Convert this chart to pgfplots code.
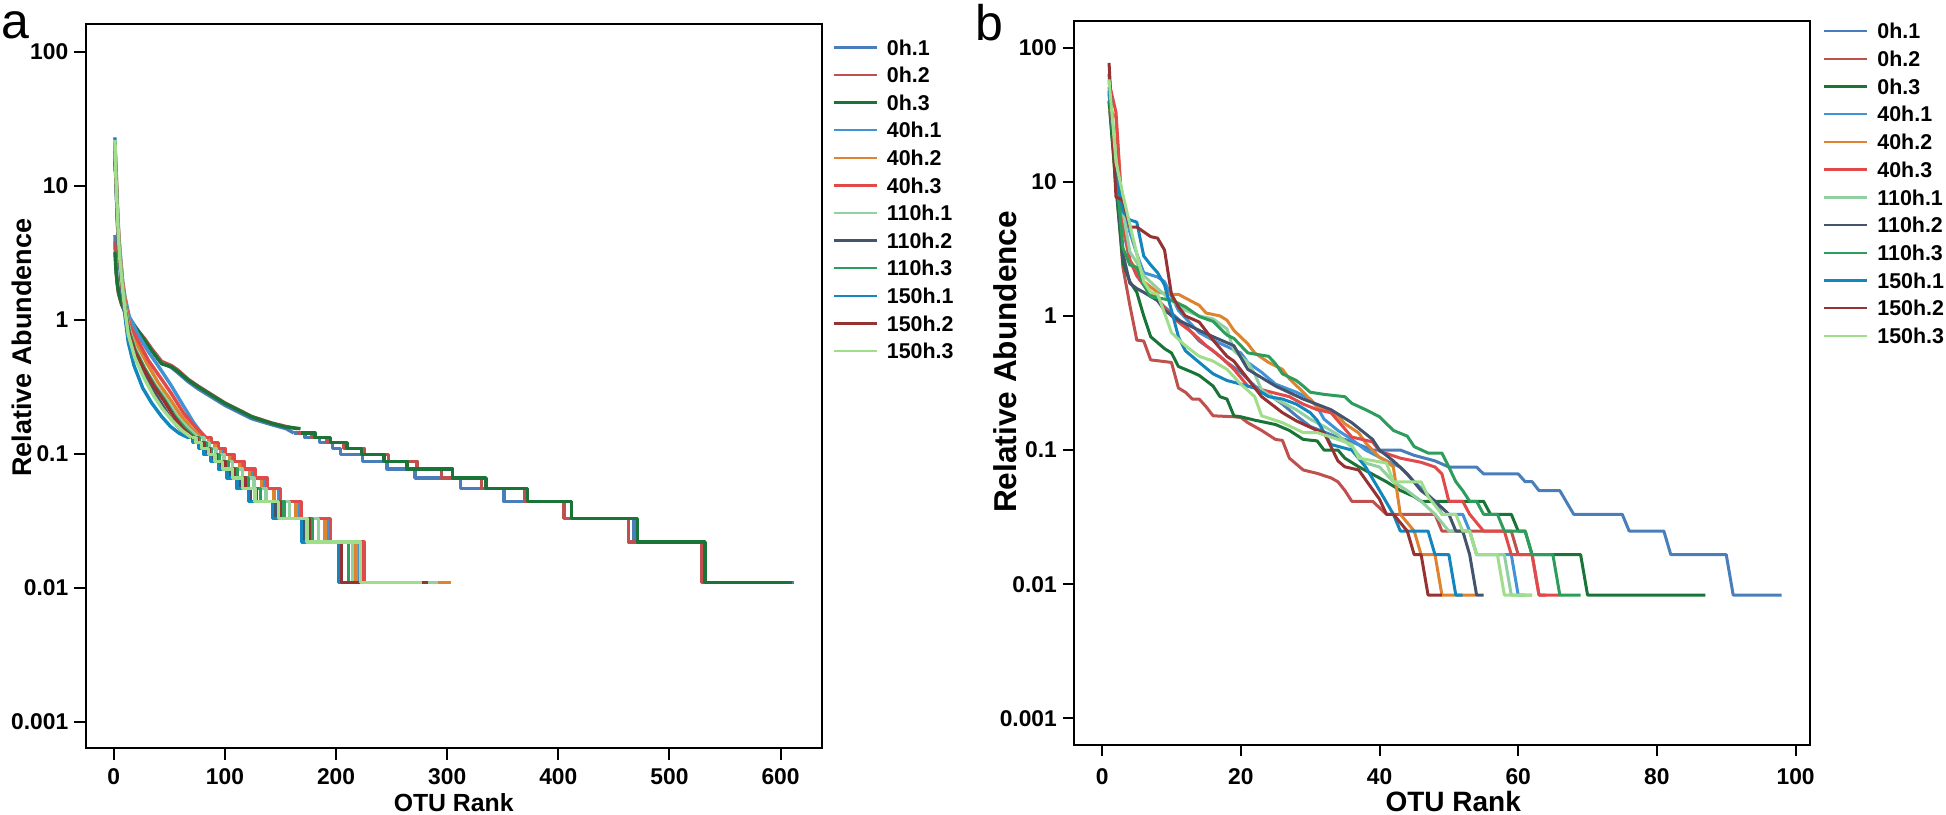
\documentclass[border=0pt]{standalone}
\usepackage{fontspec}
\setmainfont{Liberation Sans}
\usepackage{pgfplots}
\pgfplotsset{compat=1.18}

\definecolor{c01}{RGB}{74,126,187}
\definecolor{c02}{RGB}{192,80,77}
\definecolor{c03}{RGB}{26,115,55}
\definecolor{c41}{RGB}{66,146,214}
\definecolor{c42}{RGB}{222,132,48}
\definecolor{c43}{RGB}{226,74,74}
\definecolor{c111}{RGB}{145,208,160}
\definecolor{c112}{RGB}{68,84,110}
\definecolor{c113}{RGB}{44,157,90}
\definecolor{c151}{RGB}{20,134,190}
\definecolor{c152}{RGB}{150,50,50}
\definecolor{c153}{RGB}{160,222,140}

\pgfplotsset{/pgf/number format/assume math mode=true}

\begin{document}
\begin{tikzpicture}

% ---------------- panel a ----------------
\begin{axis}[
  at={(42.85pt,32.85pt)}, anchor=south west,
  scale only axis, width=368pt, height=362pt,
  ymode=log, yminorticks=false,
  xmin=-25.3, xmax=637, ymin=6.33e-4, ymax=160.9,
  xtick={0,100,200,300,400,500,600},
  ytick={0.001,0.01,0.1,1,10,100},
  yticklabels={0.001,0.01,0.1,1,10,100},
  tick pos=left, tick align=outside, major tick length=5.7pt,
  axis line style={line width=1pt},
  major tick style={line width=1pt,black},
  tick label style={font=\bfseries\fontsize{11.4}{13}\selectfont},
  yticklabel style={xshift=0.5pt},
  xticklabel style={yshift=-1pt},
  legend image code/.code={\draw[line width=1.2pt] (0pt,0pt) -- (21.5pt,0pt);},
  legend style={draw=none, fill=none, at={(1,1)}, anchor=north west, xshift=5.2pt, yshift=-7.5pt,
    inner sep=0pt, row sep=6.1pt, font=\bfseries\fontsize{10.7}{12}\selectfont,
    nodes={inner sep=0pt, text height=7.7pt, text depth=0pt},
    /tikz/every odd column/.append style={column sep=4.5pt}},
  legend cell align=left,
  xlabel={OTU Rank},
  xlabel style={font=\bfseries\fontsize{12.4}{14}\selectfont, at={(0.5,-0.0876)}, anchor=base},
  ylabel={Relative Abundence},
  ylabel style={font=\bfseries\fontsize{13.5}{16}\selectfont, at={(-0.0866,0.553)}, anchor=center},
  every axis plot/.append style={line width=1.7pt, line join=round},
]
% 0h.1
\addplot[c01] coordinates {(1,4.3)(2,2.5)(3,1.95)(4,1.7)(5,1.55)(7,1.35)(10,1.18)(13,1.07)(19,0.9)(28,0.71)(34,0.6)(43,0.48)(52,0.44)(58,0.4)(67,0.345)(76,0.305)(88,0.265)(100,0.23)(112,0.205)(124,0.183)(142,0.165)(155,0.154)(162,0.143)};
\addlegendentry{0h.1}
\addplot[c01, const plot, forget plot] coordinates {(162,0.143)(172,0.132)(185,0.121)(197,0.110)(204,0.099)(224,0.088)(246,0.077)(271,0.066)(312,0.055)(351,0.044)(412,0.033)(468,0.022)(531,0.011)(612,0.011)};
% 0h.2
\addplot[c02] coordinates {(1,3.8)(2,2.4)(3,1.9)(4,1.6)(5,1.5)(7,1.3)(10,1.14)(13,1.04)(19,0.88)(28,0.72)(34,0.61)(43,0.49)(52,0.455)(58,0.42)(67,0.36)(76,0.32)(88,0.277)(100,0.24)(112,0.214)(124,0.19)(142,0.17)(155,0.16)(165,0.154)};
\addlegendentry{0h.2}
\addplot[c02, const plot, forget plot] coordinates {(165,0.143)(178,0.132)(192,0.121)(207,0.110)(225,0.099)(247,0.088)(273,0.077)(295,0.066)(331,0.055)(370,0.044)(405,0.033)(463,0.022)(529,0.011)(608,0.011)};
% 0h.3
\addplot[c03] coordinates {(1,3.2)(2,2.3)(3,1.9)(4,1.65)(5,1.5)(7,1.32)(10,1.15)(13,1.05)(19,0.89)(28,0.70)(34,0.59)(43,0.47)(52,0.446)(58,0.41)(67,0.355)(76,0.316)(88,0.274)(100,0.238)(112,0.212)(124,0.189)(142,0.169)(154,0.159)(168,0.154)};
\addlegendentry{0h.3}
\addplot[c03, const plot, forget plot] coordinates {(168,0.143)(181,0.132)(195,0.121)(210,0.110)(223,0.099)(243,0.088)(264,0.077)(305,0.066)(335,0.055)(372,0.044)(412,0.033)(471,0.022)(532,0.011)(610,0.011)};
% 40h.1
\addplot[c41] coordinates {(1,21)(2,13.8)(3,8)(4,5.2)(5,3.8)(6,3.0)(8,1.95)(10,1.5)(14,1.05)(17,0.95)(21,0.8)(31,0.58)(41,0.44)(51,0.33)(61,0.24)(72,0.17)(82,0.132)};
\addlegendentry{40h.1}
\addplot[c41, const plot, forget plot] coordinates {(82,0.132)(87,0.121)(93,0.110)(99,0.099)(107,0.088)(116,0.077)(125,0.066)(136,0.055)(148,0.044)(167,0.033)(193,0.022)(221,0.011)(262,0.011)};
% 40h.2
\addplot[c42] coordinates {(1,17)(2,13)(3,7.7)(4,5)(5,3.6)(6,2.85)(8,1.87)(10,1.43)(14,0.94)(20,0.68)(30,0.47)(40,0.34)(50,0.26)(60,0.195)(70,0.155)(80,0.132)};
\addlegendentry{40h.2}
\addplot[c42, const plot, forget plot] coordinates {(80,0.132)(85,0.121)(91,0.110)(96,0.099)(104,0.088)(113,0.077)(122,0.066)(133,0.055)(144,0.044)(164,0.033)(190,0.022)(218,0.011)(303,0.011)};
% 40h.3
\addplot[c43] coordinates {(1,13.5)(2,12.6)(3,7.4)(4,4.7)(5,3.5)(6,2.7)(8,1.8)(10,1.37)(14,0.92)(21,0.72)(31,0.5)(42,0.37)(52,0.28)(63,0.2)(73,0.16)(83,0.132)};
\addlegendentry{40h.3}
\addplot[c43, const plot, forget plot] coordinates {(83,0.132)(88,0.121)(94,0.110)(100,0.099)(108,0.088)(117,0.077)(127,0.066)(138,0.055)(150,0.044)(169,0.033)(195,0.022)(225,0.011)(270,0.011)};
% 110h.1
\addplot[c111] coordinates {(1,18)(2,12)(3,7)(4,4.5)(5,3.3)(6,2.6)(8,1.7)(10,1.3)(14,0.85)(19,0.62)(28,0.43)(38,0.32)(48,0.25)(57,0.19)(67,0.155)(76,0.132)};
\addlegendentry{110h.1}
\addplot[c111, const plot, forget plot] coordinates {(76,0.132)(81,0.121)(86,0.110)(92,0.099)(99,0.088)(107,0.077)(116,0.066)(126,0.055)(137,0.044)(158,0.033)(184,0.022)(215,0.011)(292,0.011)};
% 110h.2
\addplot[c112] coordinates {(1,20)(2,10.8)(3,6.3)(4,4.05)(5,3.0)(6,2.35)(8,1.53)(10,1.17)(13,0.75)(18,0.56)(27,0.4)(35,0.3)(43,0.235)(51,0.185)(60,0.152)(68,0.132)};
\addlegendentry{110h.2}
\addplot[c112, const plot, forget plot] coordinates {(68,0.132)(72,0.121)(77,0.110)(82,0.099)(88,0.088)(95,0.077)(104,0.066)(113,0.055)(123,0.044)(145,0.033)(171,0.022)(203,0.011)(250,0.011)};
% 110h.3
\addplot[c113] coordinates {(1,16)(2,11.4)(3,6.65)(4,4.3)(5,3.1)(6,2.5)(8,1.6)(10,1.24)(14,0.81)(19,0.6)(28,0.43)(37,0.32)(46,0.25)(55,0.19)(64,0.155)(73,0.132)};
\addlegendentry{110h.3}
\addplot[c113, const plot, forget plot] coordinates {(73,0.132)(77,0.121)(83,0.110)(88,0.099)(95,0.088)(103,0.077)(111,0.066)(121,0.055)(132,0.044)(153,0.033)(179,0.022)(211,0.011)(265,0.011)};
% 150h.1
\addplot[c151] coordinates {(1,23)(2,10.2)(3,6)(4,3.8)(5,2.8)(6,2.2)(8,1.45)(10,1.08)(13,0.68)(18,0.46)(26,0.31)(34,0.24)(43,0.19)(51,0.16)(59,0.142)(67,0.132)};
\addlegendentry{150h.1}
\addplot[c151, const plot, forget plot] coordinates {(67,0.132)(71,0.121)(76,0.110)(81,0.099)(87,0.088)(94,0.077)(102,0.066)(111,0.055)(121,0.044)(143,0.033)(169,0.022)(202,0.011)(240,0.011)};
% 150h.2
\addplot[c152] coordinates {(1,15)(2,10.8)(3,6.3)(4,4.05)(5,3.0)(6,2.35)(8,1.53)(10,1.17)(14,0.77)(19,0.58)(27,0.43)(36,0.32)(45,0.25)(54,0.19)(62,0.155)(71,0.132)};
\addlegendentry{150h.2}
\addplot[c152, const plot, forget plot] coordinates {(71,0.132)(75,0.121)(81,0.110)(86,0.099)(92,0.088)(100,0.077)(108,0.066)(118,0.055)(128,0.044)(150,0.033)(176,0.022)(205,0.011)(283,0.011)};
% 150h.3
\addplot[c153] coordinates {(1,22)(2,11)(3,7)(4,4.4)(5,3.2)(6,2.5)(8,1.66)(10,1.2)(13,0.78)(19,0.52)(27,0.37)(36,0.27)(44,0.215)(53,0.175)(61,0.15)(70,0.132)};
\addlegendentry{150h.3}
\addplot[c153, const plot, forget plot] coordinates {(70,0.132)(74,0.121)(79,0.110)(85,0.099)(91,0.088)(98,0.077)(107,0.066)(116,0.055)(127,0.044)(148,0.033)(174,0.022)(222,0.011)(277,0.011)};
\end{axis}

% ---------------- panel b ----------------
\begin{axis}[
  at={(537.15pt,34.5pt)}, anchor=south west,
  scale only axis, width=367.85pt, height=362.15pt,
  ymode=log, yminorticks=false,
  xmin=-4.01, xmax=102.08, ymin=6.32e-4, ymax=158.9,
  xtick={0,20,40,60,80,100},
  ytick={0.001,0.01,0.1,1,10,100},
  yticklabels={0.001,0.01,0.1,1,10,100},
  tick pos=left, tick align=outside, major tick length=5.7pt,
  axis line style={line width=1pt},
  major tick style={line width=1pt,black},
  tick label style={font=\bfseries\fontsize{11.4}{13}\selectfont},
  yticklabel style={xshift=0.5pt},
  xticklabel style={yshift=-2.5pt},
  legend image code/.code={\draw[line width=1.2pt] (0pt,0pt) -- (21.5pt,0pt);},
  legend style={draw=none, fill=none, at={(1,1)}, anchor=north west, xshift=6.3pt, yshift=-1.15pt,
    inner sep=0pt, row sep=6.15pt, font=\bfseries\fontsize{10.7}{12}\selectfont,
    nodes={inner sep=0pt, text height=7.7pt, text depth=0pt},
    /tikz/every odd column/.append style={column sep=4.5pt}},
  legend cell align=left,
  xlabel={OTU Rank},
  xlabel style={font=\bfseries\fontsize{14}{16}\selectfont, at={(0.515,-0.0921)}, anchor=base},
  ylabel={Relative Abundence},
  ylabel style={font=\bfseries\fontsize{15.8}{19}\selectfont, at={(-0.0942,0.529)}, anchor=center},
  every axis plot/.append style={line width=1.5pt, line join=round},
]
\addplot[c01] coordinates {(1,45)(2,11)(3,4.5)(4,2.6)(5,2.0)(6,1.7)(8,1.3)(10,1.05)(12,0.85)(14,0.65)(16,0.55)(18,0.45)(20,0.38)(22,0.3)(24,0.26)(26,0.22)(28,0.18)(30,0.15)(33,0.13)(36,0.115)(39,0.1)(43,0.1)(45,0.0913)(48,0.083)(50,0.0747)(54,0.0747)(55,0.0664)(60,0.0664)(61,0.0581)(62,0.0581)(63,0.0498)(66,0.0498)(68,0.0332)(75,0.0332)(76,0.0249)(81,0.0249)(82,0.0166)(90,0.0166)(91,0.0083)(98,0.0083)};
\addlegendentry{0h.1}
\addplot[c02] coordinates {(1,40)(2,10)(3,2.3)(4,1.2)(5,0.66)(6,0.65)(7,0.47)(10,0.45)(11,0.29)(12,0.27)(13,0.24)(14,0.24)(15,0.21)(16,0.18)(19,0.177)(20,0.175)(21,0.16)(23,0.14)(25,0.12)(26,0.118)(27,0.087)(29,0.071)(31,0.067)(33,0.062)(34,0.058)(35,0.05)(36,0.0415)(39,0.0415)(41,0.0332)(48,0.0332)(49,0.0249)(59,0.0249)(60,0.0166)(62,0.0166)(63,0.0083)(64,0.0083)};
\addlegendentry{0h.2}
\addplot[c03] coordinates {(1,40)(2,9)(3,2.5)(4,1.8)(5,1.5)(6,1.0)(7,0.7)(9,0.57)(10,0.53)(11,0.42)(13,0.38)(14,0.36)(16,0.3)(17,0.25)(18,0.24)(19,0.18)(20,0.177)(22,0.167)(25,0.155)(27,0.14)(29,0.12)(31,0.117)(32,0.1)(34,0.1)(35,0.087)(37,0.075)(39,0.066)(41,0.058)(43,0.05)(45,0.045)(46,0.0415)(55,0.0415)(56,0.0332)(59,0.0332)(60,0.0249)(61,0.0249)(62,0.0166)(69,0.0166)(70,0.0083)(87,0.0083)};
\addlegendentry{0h.3}
\addplot[c41] coordinates {(1,48)(2,14)(3,7)(4,4.2)(5,2.9)(6,2.1)(8,1.95)(9,1.8)(10,1.4)(11,1.1)(13,0.85)(14,0.75)(16,0.66)(20,0.53)(21,0.45)(23,0.38)(25,0.31)(28,0.27)(30,0.24)(31,0.21)(32,0.17)(34,0.14)(36,0.12)(38,0.1)(41,0.083)(43,0.0747)(45,0.0581)(48,0.0415)(49,0.0332)(52,0.0332)(53,0.0249)(54,0.0166)(59,0.0166)(60,0.0083)(61,0.0083)};
\addlegendentry{40h.1}
\addplot[c42] coordinates {(1,35)(2,30)(3,5)(4,2.6)(5,2.2)(6,1.8)(8,1.5)(10,1.45)(11,1.45)(12,1.36)(14,1.2)(15,1.05)(17,1.0)(18,0.93)(19,0.78)(21,0.62)(22,0.53)(24,0.45)(26,0.4)(27,0.34)(29,0.27)(31,0.21)(34,0.18)(35,0.157)(37,0.134)(38,0.113)(40,0.088)(41,0.083)(42,0.0747)(43,0.0332)(45,0.0249)(46,0.0166)(48,0.0166)(49,0.0083)(54,0.0083)};
\addlegendentry{40h.2}
\addplot[c43] coordinates {(1,55)(2,33)(3,5)(4,2.6)(5,2.0)(6,1.7)(7,1.5)(8,1.35)(9,1.15)(10,1.0)(11,0.9)(13,0.75)(15,0.6)(17,0.5)(19,0.4)(21,0.3)(25,0.265)(27,0.25)(29,0.22)(31,0.2)(33,0.19)(36,0.125)(39,0.115)(40,0.098)(43,0.087)(46,0.081)(48,0.0747)(49,0.0664)(50,0.0415)(52,0.0415)(53,0.0332)(55,0.0249)(58,0.0249)(59,0.0166)(62,0.0166)(63,0.0083)(66,0.0083)};
\addlegendentry{40h.3}
\addplot[c111] coordinates {(1,57)(2,15)(3,6)(4,3)(5,2.5)(6,2.0)(8,1.6)(10,1.3)(12,1.1)(14,1.0)(16,0.95)(18,0.8)(19,0.55)(21,0.45)(22,0.37)(23,0.28)(25,0.24)(28,0.2)(30,0.17)(32,0.15)(34,0.13)(36,0.105)(38,0.08)(40,0.0747)(42,0.0581)(44,0.0498)(46,0.0415)(48,0.0332)(50,0.0249)(53,0.0249)(54,0.0166)(58,0.0166)(59,0.0083)(62,0.0083)};
\addlegendentry{110h.1}
\addplot[c112] coordinates {(1,64)(2,10)(3,2.9)(4,1.75)(5,1.6)(6,1.5)(8,1.3)(9,1.1)(11,0.93)(14,0.78)(16,0.7)(19,0.6)(21,0.4)(25,0.3)(29,0.24)(33,0.2)(36,0.16)(39,0.12)(40,0.1)(42,0.083)(44,0.0664)(46,0.0498)(48,0.0415)(50,0.0332)(51,0.0249)(52,0.0249)(53,0.0166)(54,0.0083)(55,0.0083)};
\addlegendentry{110h.2}
\addplot[c113] coordinates {(1,47)(2,12)(3,3.2)(4,2.4)(5,2.3)(6,1.7)(7,1.39)(10,1.31)(12,1.17)(14,0.99)(16,0.91)(18,0.72)(19,0.68)(21,0.53)(24,0.5)(25,0.44)(26,0.37)(28,0.33)(29,0.3)(30,0.27)(32,0.26)(35,0.25)(36,0.223)(38,0.2)(40,0.177)(42,0.14)(44,0.127)(45,0.106)(47,0.095)(49,0.095)(50,0.0747)(51,0.0581)(52,0.0498)(53,0.0415)(54,0.0415)(55,0.0332)(57,0.0332)(58,0.0249)(61,0.0249)(62,0.0166)(65,0.0166)(66,0.0083)(69,0.0083)};
\addlegendentry{110h.3}
\addplot[c151] coordinates {(1,51)(2,12)(3,6)(4,5.2)(5,5.0)(6,2.8)(7,2.4)(8,2.1)(9,1.7)(10,1.1)(11,0.7)(12,0.55)(14,0.45)(16,0.37)(18,0.33)(20,0.31)(22,0.29)(24,0.25)(26,0.24)(28,0.22)(30,0.19)(31,0.167)(33,0.11)(36,0.1)(38,0.0747)(40,0.05)(42,0.0332)(43,0.0249)(47,0.0249)(48,0.0166)(50,0.0166)(51,0.0083)(52,0.0083)};
\addlegendentry{150h.1}
\addplot[c152] coordinates {(1,77)(2,7.7)(3,7.3)(4,4.6)(5,4.6)(7,3.9)(8,3.8)(9,3.1)(10,1.45)(11,1.17)(12,1.0)(14,0.9)(16,0.66)(18,0.5)(19,0.46)(21,0.34)(23,0.25)(26,0.19)(28,0.165)(31,0.14)(32,0.135)(34,0.083)(35,0.075)(37,0.071)(38,0.06)(40,0.043)(41,0.0332)(42,0.0332)(44,0.0249)(45,0.0166)(46,0.0166)(47,0.0083)(49,0.0083)};
\addlegendentry{150h.2}
\addplot[c153] coordinates {(1,58)(2,14)(3,8)(4,4.8)(5,2.9)(6,1.8)(7,1.5)(8,1.45)(9,1.05)(10,0.75)(12,0.6)(14,0.5)(16,0.46)(18,0.4)(20,0.31)(22,0.25)(23,0.18)(26,0.16)(29,0.135)(31,0.135)(34,0.12)(36,0.11)(37,0.087)(41,0.08)(42,0.058)(46,0.058)(47,0.045)(49,0.0332)(51,0.0332)(52,0.0249)(53,0.0249)(54,0.0166)(57,0.0166)(58,0.0083)(62,0.0083)};
\addlegendentry{150h.3}
\end{axis}

\node[anchor=base west, inner sep=0pt, font=\fontsize{25}{30}\selectfont] at (0.5pt,387.5pt) {a};
\node[anchor=base west, inner sep=0pt, font=\fontsize{25}{30}\selectfont] at (487.5pt,386.5pt) {b};

\pgfresetboundingbox
\useasboundingbox (0pt,0pt) rectangle (973pt,407pt);
\end{tikzpicture}
\end{document}
